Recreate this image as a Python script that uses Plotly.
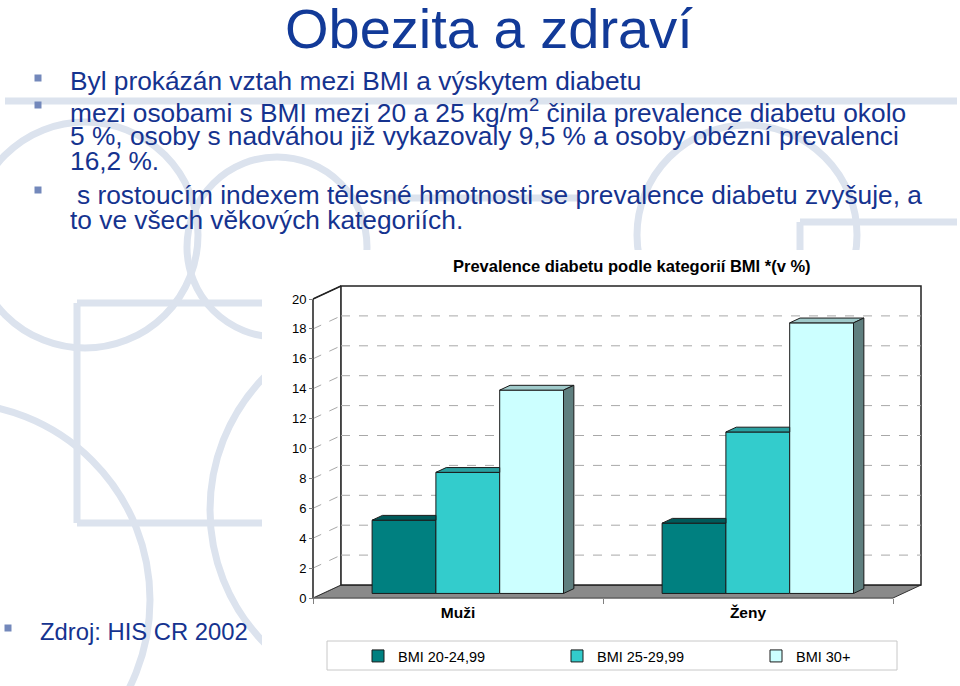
import plotly.graph_objects as go

# ---------------- data ----------------
categories = ["Muži", "Ženy"]
series_names = ["BMI 20-24,99", "BMI 25-29,99", "BMI 30+"]
values_muzi = [4.9, 8.1, 13.6]
values_zeny = [4.7, 10.8, 18.1]
y_ticks = [0, 2, 4, 6, 8, 10, 12, 14, 16, 18, 20]

chart_title = "Prevalence diabetu podle kategorií BMI *(v %)"
slide_title = "Obezita a zdraví"
bullet_lines = [
    "Byl prokázán vztah mezi BMI a výskytem diabetu",
    "mezi osobami s BMI mezi 20 a 25 kg/m<sup>2</sup> činila prevalence diabetu okolo",
    "5 %, osoby s nadváhou již vykazovaly 9,5 % a osoby obézní prevalenci",
    "16,2 %.",
    "s rostoucím indexem tělesné hmotnosti se prevalence diabetu zvyšuje, a",
    "to ve všech věkových kategoriích.",
]
source_text = "Zdroj: HIS CR 2002"

# ---------------- styles ----------------
front_colors = ["#008080", "#33CCCC", "#CCFFFF"]
top_colors = ["#005a5a", "#2aa0a0", "#9fcaca"]
side_colors = ["#004646", "#1f7878", "#5f7f7f"]
TEXT_BLUE = "#15338f"
DECO = "#dce3ee"
FONT = "Liberation Sans, Arial, sans-serif"

W, H = 960, 686
PX0, PY0 = 313, 598          # front axis origin in pixels
SX, SY = 290.0, 14.95        # px per category unit / per value unit
DX, DY = 28 / SX, 13 / SY    # full depth offset of the 3D box
D0 = 0.35                    # depth fraction of bar front faces
BD = 0.37                    # bar depth fraction
BW = 0.22                    # bar width (category units)
B0 = D0 * DY
XL, XR = -PX0 / SX, (W - PX0) / SX
YB, YT = (PY0 - H) / SY, PY0 / SY


def P(px, py):
    return px / W, 1 - py / H


fig = go.Figure()

# ---------------- bars (front faces) ----------------
vals = [values_muzi, values_zeny]
for s in range(3):
    xs = [c + 0.5 + (s - 1) * BW + D0 * DX for c in range(len(categories))]
    ys = [vals[c][s] for c in range(len(categories))]
    fig.add_bar(
        x=xs, y=ys, base=[B0] * len(xs), width=BW, name=series_names[s],
        marker=dict(color=front_colors[s], line=dict(color="#1a1a1a", width=1)),
        hoverinfo="skip",
    )

# ---------------- top and side faces ----------------
ddx, ddy = BD * DX, BD * DY
for c in range(len(categories)):
    for s in range(3):
        v = vals[c][s]
        cx = c + 0.5 + (s - 1) * BW + D0 * DX
        L, R, T = cx - BW / 2, cx + BW / 2, B0 + v
        nxt = vals[c][s + 1] if s < 2 else None
        covered = nxt is not None and B0 + nxt >= T + ddy
        if covered:
            tx = [L, R, R, L + ddx, L]
        else:
            tx = [L, R, R + ddx, L + ddx, L]
        ty = [T, T, T + ddy, T + ddy, T]
        fig.add_scatter(x=tx, y=ty, mode="lines", fill="toself",
                        fillcolor=top_colors[s], line=dict(color="#1a1a1a", width=1),
                        showlegend=False, hoverinfo="skip")
        if not covered:
            sx = [R, R, R + ddx, R + ddx, R]
            sy = [B0, T, T + ddy, B0 + ddy, B0]
            fig.add_scatter(x=sx, y=sy, mode="lines", fill="toself",
                            fillcolor=side_colors[s], line=dict(color="#1a1a1a", width=1),
                            showlegend=False, hoverinfo="skip")

shapes = []
# ---------------- slide decoration ----------------
def circ(cx, cy, r):
    x0, y1 = P(cx - r, cy - r)
    x1, y0 = P(cx + r, cy + r)
    return dict(type="circle", xref="paper", yref="paper", x0=x0, y0=y0, x1=x1, y1=y1,
                line=dict(color=DECO, width=7), layer="below")

def seg(x0, y0, x1, y1):
    a, b = P(x0, y0)
    c, d = P(x1, y1)
    return dict(type="line", xref="paper", yref="paper", x0=a, y0=b, x1=c, y1=d,
                line=dict(color=DECO, width=7), layer="below")

shapes += [
    seg(5, 101, 957, 101),
    circ(85, 235, 113),
    circ(277, 247, 90),
    circ(747, 235, 110),
    circ(-47, 600, 197),
    circ(400, 510, 190),
    seg(77, 303, 400, 303), seg(77, 303, 77, 523), seg(77, 523, 400, 523),
    seg(383, 198, 580, 198),
    seg(800, 222, 957, 222), seg(800, 222, 800, 300),
]
# white chart object area
a, b = P(262, 250)
c, d = P(912, 686)
shapes.append(dict(type="rect", xref="paper", yref="paper", x0=a, y0=d, x1=c, y1=b,
                   fillcolor="white", line=dict(width=0), layer="below"))

# ---------------- 3D chart frame ----------------
shapes.append(dict(type="path", xref="x", yref="y", layer="below",
                   path=f"M0,0 L{2},0 L{2 + DX},{DY} L{DX},{DY} Z",
                   fillcolor="#8a8a8a", line=dict(color="#333333", width=1)))
shapes.append(dict(type="path", xref="x", yref="y", layer="below",
                   path=f"M0,0 L{DX},{DY} L{DX},{20 + DY} L0,20 Z",
                   fillcolor="white", line=dict(color="#333333", width=1)))
shapes.append(dict(type="rect", xref="x", yref="y", layer="below",
                   x0=DX, y0=DY, x1=2 + DX, y1=20 + DY,
                   fillcolor="white", line=dict(color="#222222", width=1.5)))
for v in y_ticks[1:-1]:
    shapes.append(dict(type="line", xref="x", yref="y", layer="below",
                       x0=0, y0=v, x1=DX, y1=v + DY,
                       line=dict(color="#a8a8a8", width=1, dash="dash")))
    shapes.append(dict(type="line", xref="x", yref="y", layer="below",
                       x0=DX, y0=v + DY, x1=2 + DX, y1=v + DY,
                       line=dict(color="#a8a8a8", width=1, dash="dash")))
shapes.append(dict(type="line", xref="x", yref="y", x0=0, y0=0, x1=0, y1=20,
                   line=dict(color="#555555", width=2), layer="below"))
shapes.append(dict(type="line", xref="x", yref="y", x0=0, y0=20, x1=DX, y1=20 + DY,
                   line=dict(color="#222222", width=1.5), layer="below"))
shapes.append(dict(type="line", xref="x", yref="y", x0=0, y0=0, x1=2, y1=0,
                   line=dict(color="#777777", width=1), layer="below"))

# legend box
a, b = P(327, 641)
c, d = P(897, 670)
shapes.append(dict(type="rect", xref="paper", yref="paper", x0=a, y0=d, x1=c, y1=b,
                   fillcolor="white", line=dict(color="#c8c8c8", width=1), layer="below"))

# bullets
for (bx, by) in [(38, 78), (38, 105), (38, 190), (8, 628)]:
    x0, y1 = P(bx - 3.5, by - 3.5)
    x1, y0 = P(bx + 3.5, by + 3.5)
    shapes.append(dict(type="rect", xref="paper", yref="paper", x0=x0, y0=y0, x1=x1, y1=y1,
                       fillcolor="#7388bb", line=dict(width=0)))

# ---------------- text ----------------
ann = []
tx, ty = P(489, 28)
ann.append(dict(text=slide_title, x=tx, y=ty, xref="paper", yref="paper", showarrow=False,
                xanchor="center", yanchor="middle", font=dict(family=FONT, size=56, color="#123a98")))
line_pos = [(68, 81), (68, 111), (68, 136), (68, 161), (75, 195), (68, 220)]
for t, (lx, ly) in zip(bullet_lines, line_pos):
    x, y = P(lx, ly)
    ann.append(dict(text=t, x=x, y=y, xref="paper", yref="paper", showarrow=False,
                    xanchor="left", yanchor="middle", font=dict(family=FONT, size=26.3, color=TEXT_BLUE)))
x, y = P(38, 631)
ann.append(dict(text=source_text, x=x, y=y, xref="paper", yref="paper", showarrow=False,
                xanchor="left", yanchor="middle", font=dict(family=FONT, size=23.8, color=TEXT_BLUE)))
x, y = P(632, 266)
ann.append(dict(text=chart_title, x=x, y=y, xref="paper", yref="paper", showarrow=False,
                xanchor="center", yanchor="middle",
                font=dict(family=FONT, size=16.5, color="black", weight="bold")))

fig.update_layout(
    width=W, height=H, margin=dict(l=0, r=0, t=0, b=0),
    paper_bgcolor="white", plot_bgcolor="white",
    barmode="overlay", shapes=shapes, annotations=ann,
    showlegend=True,
    legend=dict(orientation="h", x=358 / W, y=1 - 656 / H, xanchor="left", yanchor="middle",
                entrywidth=154, entrywidthmode="pixels", bgcolor="rgba(0,0,0,0)",
                font=dict(family=FONT, size=14.5, color="black"), traceorder="normal"),
    xaxis=dict(range=[XL, XR], domain=[0, 1], anchor="free", position=(H - PY0) / H,
               tickvals=[0.5, 1.5], ticktext=categories, ticks="", showgrid=False,
               zeroline=False, showline=False, ticklabelstandoff=3,
               tickfont=dict(family=FONT, size=15.5, color="black", weight="bold"),
               minor=dict(tickvals=[0, 1, 2], ticks="outside", ticklen=5,
                          tickcolor="#808080", showgrid=False)),
    yaxis=dict(range=[YB, YT], domain=[0, 1], anchor="free", position=PX0 / W,
               tickvals=y_ticks, ticks="outside", ticklen=4, tickcolor="#808080",
               showgrid=False, zeroline=False, showline=False,
               tickfont=dict(family=FONT, size=13, color="black")),
)

fig.write_html("out.html")
